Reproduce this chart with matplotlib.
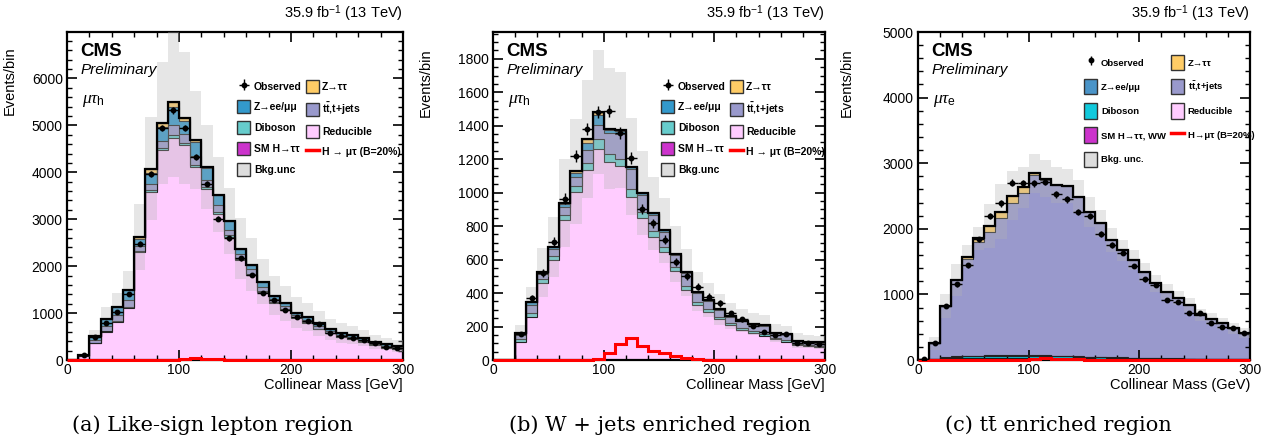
import numpy as np
import matplotlib.pyplot as plt
from matplotlib.patches import Patch
from matplotlib.lines import Line2D
from matplotlib.ticker import MultipleLocator

plt.rcParams['font.family'] = ['Liberation Sans', 'DejaVu Sans']
plt.rcParams['mathtext.fontset'] = 'custom'
plt.rcParams['mathtext.rm'] = 'Liberation Serif'
plt.rcParams['mathtext.it'] = 'Liberation Serif:italic'
plt.rcParams['mathtext.sf'] = 'Liberation Sans'
plt.rcParams['mathtext.bf'] = 'Liberation Sans:bold'

# binning: collinear mass 0-300 GeV, 10 GeV bins
edges = np.arange(0, 310, 10)
centers = edges[:-1] + 5

# (a) like-sign lepton region, mu tau_h
reducible_a = [0, 90, 355, 600, 815, 1100, 2300, 3580, 4470, 4740, 4575, 4110, 3640, 3120, 2625,
               2130, 1810, 1440, 1205, 1065, 890, 780, 650, 570, 480, 440, 385, 320, 260, 235]
vv_a = [0, 2, 15, 25, 25, 30, 25, 40, 45, 50, 50, 50, 45, 40, 35,
        30, 30, 30, 25, 20, 20, 20, 20, 15, 15, 15, 12, 12, 12, 10]
tt_a = [0, 5, 60, 100, 110, 140, 100, 140, 150, 210, 200, 190, 160, 140, 120,
        100, 90, 90, 70, 60, 50, 55, 55, 35, 45, 40, 35, 30, 35, 30]
zll_a = [0, 9, 80, 140, 170, 220, 145, 220, 300, 395, 275, 305, 255, 220, 180,
         115, 105, 105, 70, 60, 45, 55, 55, 30, 40, 35, 28, 28, 28, 25]
ztt_a = [0, 0, 0, 0, 0, 10, 50, 100, 85, 95, 55, 25, 10, 0, 0,
         0, 0, 0, 0, 0, 0, 0, 0, 0, 0, 0, 0, 0, 0, 0]
smh_a = [0, 0, 0, 0, 0, 0, 0, 1, 2, 3, 4, 4, 3, 2, 1,
         1, 0, 0, 0, 0, 0, 0, 0, 0, 0, 0, 0, 0, 0, 0]
sig_a = [0, 0, 0, 0, 0, 0, 0, 0, 0, 5, 25, 35, 25, 12, 5,
         2, 0, 0, 0, 0, 0, 0, 0, 0, 0, 0, 0, 0, 0, 0]
obs_a = [0, 106, 495, 780, 1030, 1400, 2480, 3970, 4940, 5320, 4940, 4330, 3760, 3015, 2590,
         2165, 1810, 1420, 1275, 1065, 910, 830, 765, 570, 520, 460, 425, 355, 285, 250]
unc_a = [0, 30, 130, 255, 310, 400, 710, 1100, 1300, 1600, 1400, 1050, 900, 800, 700,
         640, 560, 480, 420, 380, 330, 300, 260, 230, 210, 190, 170, 150, 130, 120]

# (b) W+jets enriched region, mu tau_h
reducible_b = [0, 0, 109, 255, 462, 597, 836, 1005, 1134, 1260, 1184, 1158, 975, 846, 736,
               647, 533, 418, 328, 289, 243, 209, 179, 159, 143, 123, 109, 90, 84, 76]
vv_b = [0, 0, 15, 25, 20, 25, 30, 35, 45, 60, 45, 45, 45, 40, 35,
        30, 25, 25, 20, 15, 15, 12, 12, 12, 10, 8, 8, 6, 6, 6]
tt_b = [0, 0, 25, 50, 30, 40, 50, 55, 75, 85, 130, 145, 120, 100, 95,
        90, 70, 75, 55, 50, 40, 38, 40, 40, 52, 30, 36, 18, 18, 22]
zll_b = [0, 0, 10, 15, 10, 12, 18, 23, 45, 62, 15, 20, 12, 9, 10,
         9, 5, 5, 5, 4, 4, 4, 4, 4, 4, 2, 2, 1, 1, 1]
ztt_b = [0, 0, 0, 3, 1, 3, 5, 10, 20, 15, 7, 5, 2, 0, 0,
         0, 0, 0, 0, 0, 0, 0, 0, 0, 0, 0, 0, 0, 0, 0]
smh_b = [0, 0, 0, 0, 0, 0, 0, 0, 1, 1, 1, 1, 1, 1, 0,
         0, 0, 0, 0, 0, 0, 0, 0, 0, 0, 0, 0, 0, 0, 0]
sig_b = [0, 0, 0, 0, 0, 0, 0, 0, 2, 4, 40, 93, 129, 84, 54,
         40, 24, 10, 4, 0, 0, 0, 0, 0, 0, 0, 0, 0, 0, 0]
obs_b = [0, 0, 155, 368, 521, 706, 965, 1220, 1379, 1482, 1488, 1357, 1208, 905, 816,
         720, 587, 501, 438, 378, 338, 279, 243, 203, 169, 149, 153, 99, 99, 95]
unc_b = [0, 0, 50, 90, 144, 180, 265, 315, 353, 370, 360, 348, 290, 250, 220,
         195, 165, 140, 115, 100, 90, 80, 70, 65, 60, 55, 50, 45, 40, 38]

# (c) ttbar enriched region, mu tau_e
reducible_c = [0, 5, 15, 20, 25, 25, 25, 25, 25, 25, 25, 25, 22, 22, 20,
               20, 18, 16, 15, 14, 12, 11, 10, 9, 8, 7, 6, 6, 5, 5]
smh_c = [0, 1, 3, 4, 5, 6, 7, 8, 9, 10, 10, 9, 8, 7, 6,
         5, 4, 4, 3, 3, 2, 2, 2, 2, 1, 1, 1, 1, 1, 1]
vv_c = [0, 5, 15, 20, 25, 25, 25, 28, 28, 28, 30, 28, 28, 25, 25,
        22, 20, 18, 17, 15, 14, 12, 10, 10, 9, 8, 7, 6, 5, 5]
zll_c = [0, 2, 8, 10, 12, 12, 12, 12, 12, 12, 10, 10, 8, 8, 6,
         6, 5, 5, 4, 4, 3, 3, 3, 3, 2, 2, 2, 2, 2, 2]
tt_c = [0, 241, 782, 1165, 1478, 1736, 1888, 2088, 2315, 2466, 2740, 2677, 2596, 2590, 2432,
        2208, 2036, 1786, 1637, 1488, 1305, 1140, 1016, 916, 818, 668, 604, 544, 470, 393]
ztt_c = [0, 0, 0, 0, 30, 50, 85, 100, 115, 90, 30, 15, 5, 0, 0,
         0, 0, 0, 0, 0, 0, 0, 0, 0, 0, 0, 0, 0, 0, 0]
sig_c = [0, 0, 0, 0, 0, 0, 0, 0, 0, 5, 20, 25, 20, 15, 8,
         3, 0, 0, 0, 0, 0, 0, 0, 0, 0, 0, 0, 0, 0, 0]
obs_c = [10, 264, 823, 1153, 1448, 1839, 2195, 2388, 2703, 2692, 2692, 2718, 2525, 2449, 2261,
         2200, 1920, 1753, 1636, 1433, 1229, 1143, 914, 889, 721, 711, 569, 508, 483, 417]
unc_c = [0, 100, 190, 250, 180, 180, 330, 420, 370, 310, 295, 285, 280, 255, 255,
         230, 205, 180, 160, 150, 140, 125, 115, 105, 100, 95, 90, 85, 80, 75]

# colours
pink = '#ffccff'
teal = '#66cccc'
cyan = '#11c9dc'
purple = '#9999cc'
blue = '#3399cc'
orange = '#ffcc66'
magenta = '#cc33cc'
grey = '#b4b4b4'


def draw_panel(ax, comps, obs, unc, sig, ymax, ymaj, ymin, chan, xlabel):
    bottom = np.zeros(len(centers))
    for vals, col in comps:
        top = bottom + np.array(vals, float)
        ax.stairs(top, edges, baseline=bottom, fill=True, color=col, lw=0, zorder=1)
        ax.stairs(top, edges, baseline=None, color='#222222', lw=0.8, zorder=2)
        bottom = top
    total = bottom
    unc = np.array(unc, float)
    ax.stairs(total + unc, edges, baseline=total - unc, fill=True, color=grey,
              alpha=0.33, lw=0, zorder=3)
    ax.stairs(total, edges, baseline=None, color='k', lw=1.6, zorder=4)
    ax.stairs(sig, edges, baseline=None, color='red', lw=2.2, zorder=5, clip_on=False)
    obs = np.array(obs, float)
    m = obs > 0
    eb = ax.errorbar(centers[m], obs[m], xerr=5, yerr=np.sqrt(obs[m]), fmt='o', color='k',
                     ms=3.2, lw=1, capsize=0, zorder=6)

    ax.set_xlim(0, 300)
    ax.set_ylim(0, ymax)
    ax.xaxis.set_major_locator(MultipleLocator(100))
    ax.xaxis.set_minor_locator(MultipleLocator(20))
    ax.yaxis.set_major_locator(MultipleLocator(ymaj))
    ax.yaxis.set_minor_locator(MultipleLocator(ymin))
    ax.tick_params(which='both', direction='in', top=True, right=True, labelsize=10)
    ax.tick_params(which='major', length=7, width=1.2)
    ax.tick_params(which='minor', length=3.5, width=1.0)
    ax.tick_params(axis='y', pad=3)
    ax.tick_params(axis='x', pad=2)
    for s in ax.spines.values():
        s.set_linewidth(1.6)

    ax.set_xlabel(xlabel, fontsize=10.5, loc='right', labelpad=1)
    ax.set_ylabel('Events/bin', fontsize=10.5, loc='top')
    ax.text(1.0, 1.025, r'35.9 fb$^{\mathsf{-1}}$ (13 TeV)', transform=ax.transAxes,
            ha='right', va='bottom', fontsize=10.5)
    ax.text(0.04, 0.94, 'CMS', transform=ax.transAxes, ha='left', va='center',
            fontsize=13.5, fontweight='bold')
    ax.text(0.04, 0.885, 'Preliminary', transform=ax.transAxes, ha='left', va='center',
            fontsize=11, fontstyle='italic')
    ax.text(0.045, 0.79, chan, transform=ax.transAxes, ha='left', va='center', fontsize=12.5)
    return eb


fig = plt.figure(figsize=(12.88, 4.43), dpi=100)
H = 443.0
W = 1288.0
axa = fig.add_axes([67 / W, 83 / H, 336 / W, 328 / H])
axb = fig.add_axes([493 / W, 83 / H, 332 / W, 328 / H])
axc = fig.add_axes([918 / W, 83 / H, 332 / W, 328 / H])

comps_a = [(reducible_a, pink), (vv_a, teal), (tt_a, purple), (zll_a, blue),
           (ztt_a, orange), (smh_a, magenta)]
comps_b = [(reducible_b, pink), (vv_b, teal), (tt_b, purple), (zll_b, blue),
           (ztt_b, orange), (smh_b, magenta)]
comps_c = [(reducible_c, pink), (smh_c, magenta), (vv_c, cyan), (zll_c, blue),
           (tt_c, purple), (ztt_c, orange)]

eba = draw_panel(axa, comps_a, obs_a, unc_a, sig_a, 6990, 1000, 200,
                 r'$\mu\tau_{\mathsf{h}}$', 'Collinear Mass [GeV]')
ebb = draw_panel(axb, comps_b, obs_b, unc_b, sig_b, 1960, 200, 50,
                 r'$\mu\tau_{\mathsf{h}}$', 'Collinear Mass [GeV]')
draw_panel(axc, comps_c, obs_c, unc_c, sig_c, 5000, 1000, 200,
           r'$\mu\tau_{\mathsf{e}}$', 'Collinear Mass (GeV)')

axa.yaxis.set_label_coords(-0.15, 0.955)
axb.yaxis.set_label_coords(-0.18, 0.95)
axc.yaxis.set_label_coords(-0.195, 0.95)


def patch(col):
    return Patch(facecolor=col, edgecolor='#333333', lw=1)


tt_label = r'$\mathbf{t\bar{t}}$,t+jets'
for ax, eb in [(axa, eba), (axb, ebb)]:
    handles = [eb, patch(blue), patch(teal), patch(magenta), patch('#dddddd'),
               patch(orange), patch(purple), patch(pink), Line2D([], [], color='red', lw=2.5)]
    labels = ['Observed', 'Z→ee/μμ', 'Diboson', 'SM H→ττ', 'Bkg.unc',
              'Z→ττ', tt_label, 'Reducible', 'H → μτ (B=20%)']
    ax.legend(handles, labels, ncol=2, loc='upper left', bbox_to_anchor=(0.507, 0.855),
              frameon=False, prop={'weight': 'bold', 'size': 7.5}, handlelength=1.25,
              handleheight=1.55, labelspacing=0.75, handletextpad=0.35, columnspacing=0.35,
              borderpad=0, borderaxespad=0)

obs_handle = axc.errorbar([np.nan], [np.nan], yerr=[1], fmt='o', color='k', ms=3.2, lw=1)
handles = [obs_handle, patch('#4a94c8'), patch(cyan), patch(magenta), patch('#dddddd'),
           patch(orange), patch(purple), patch(pink), Line2D([], [], color='red', lw=2.5)]
labels = ['Observed', 'Z→ee/μμ', 'Diboson', 'SM H→ττ, WW', 'Bkg. unc.',
          'Z→ττ', tt_label, 'Reducible', 'H→μτ (B=20%)']
axc.legend(handles, labels, ncol=2, loc='upper left', bbox_to_anchor=(0.5, 0.93),
           frameon=False, prop={'weight': 'bold', 'size': 6.8}, handlelength=1.4,
           handleheight=2.1, labelspacing=0.95, handletextpad=0.4, columnspacing=0.5,
           borderpad=0, borderaxespad=0)

cap = {'fontsize': 15, 'family': 'DejaVu Serif', 'ha': 'center', 'va': 'center'}
fig.text(212 / W, 1 - 425 / H, '(a) Like-sign lepton region', **cap)
fig.text(660 / W, 1 - 425 / H, '(b) W + jets enriched region', **cap)
fig.text(1058 / W, 1 - 425 / H, '(c) tt\u0304 enriched region', **cap)

fig.savefig('out.png', dpi=100)
